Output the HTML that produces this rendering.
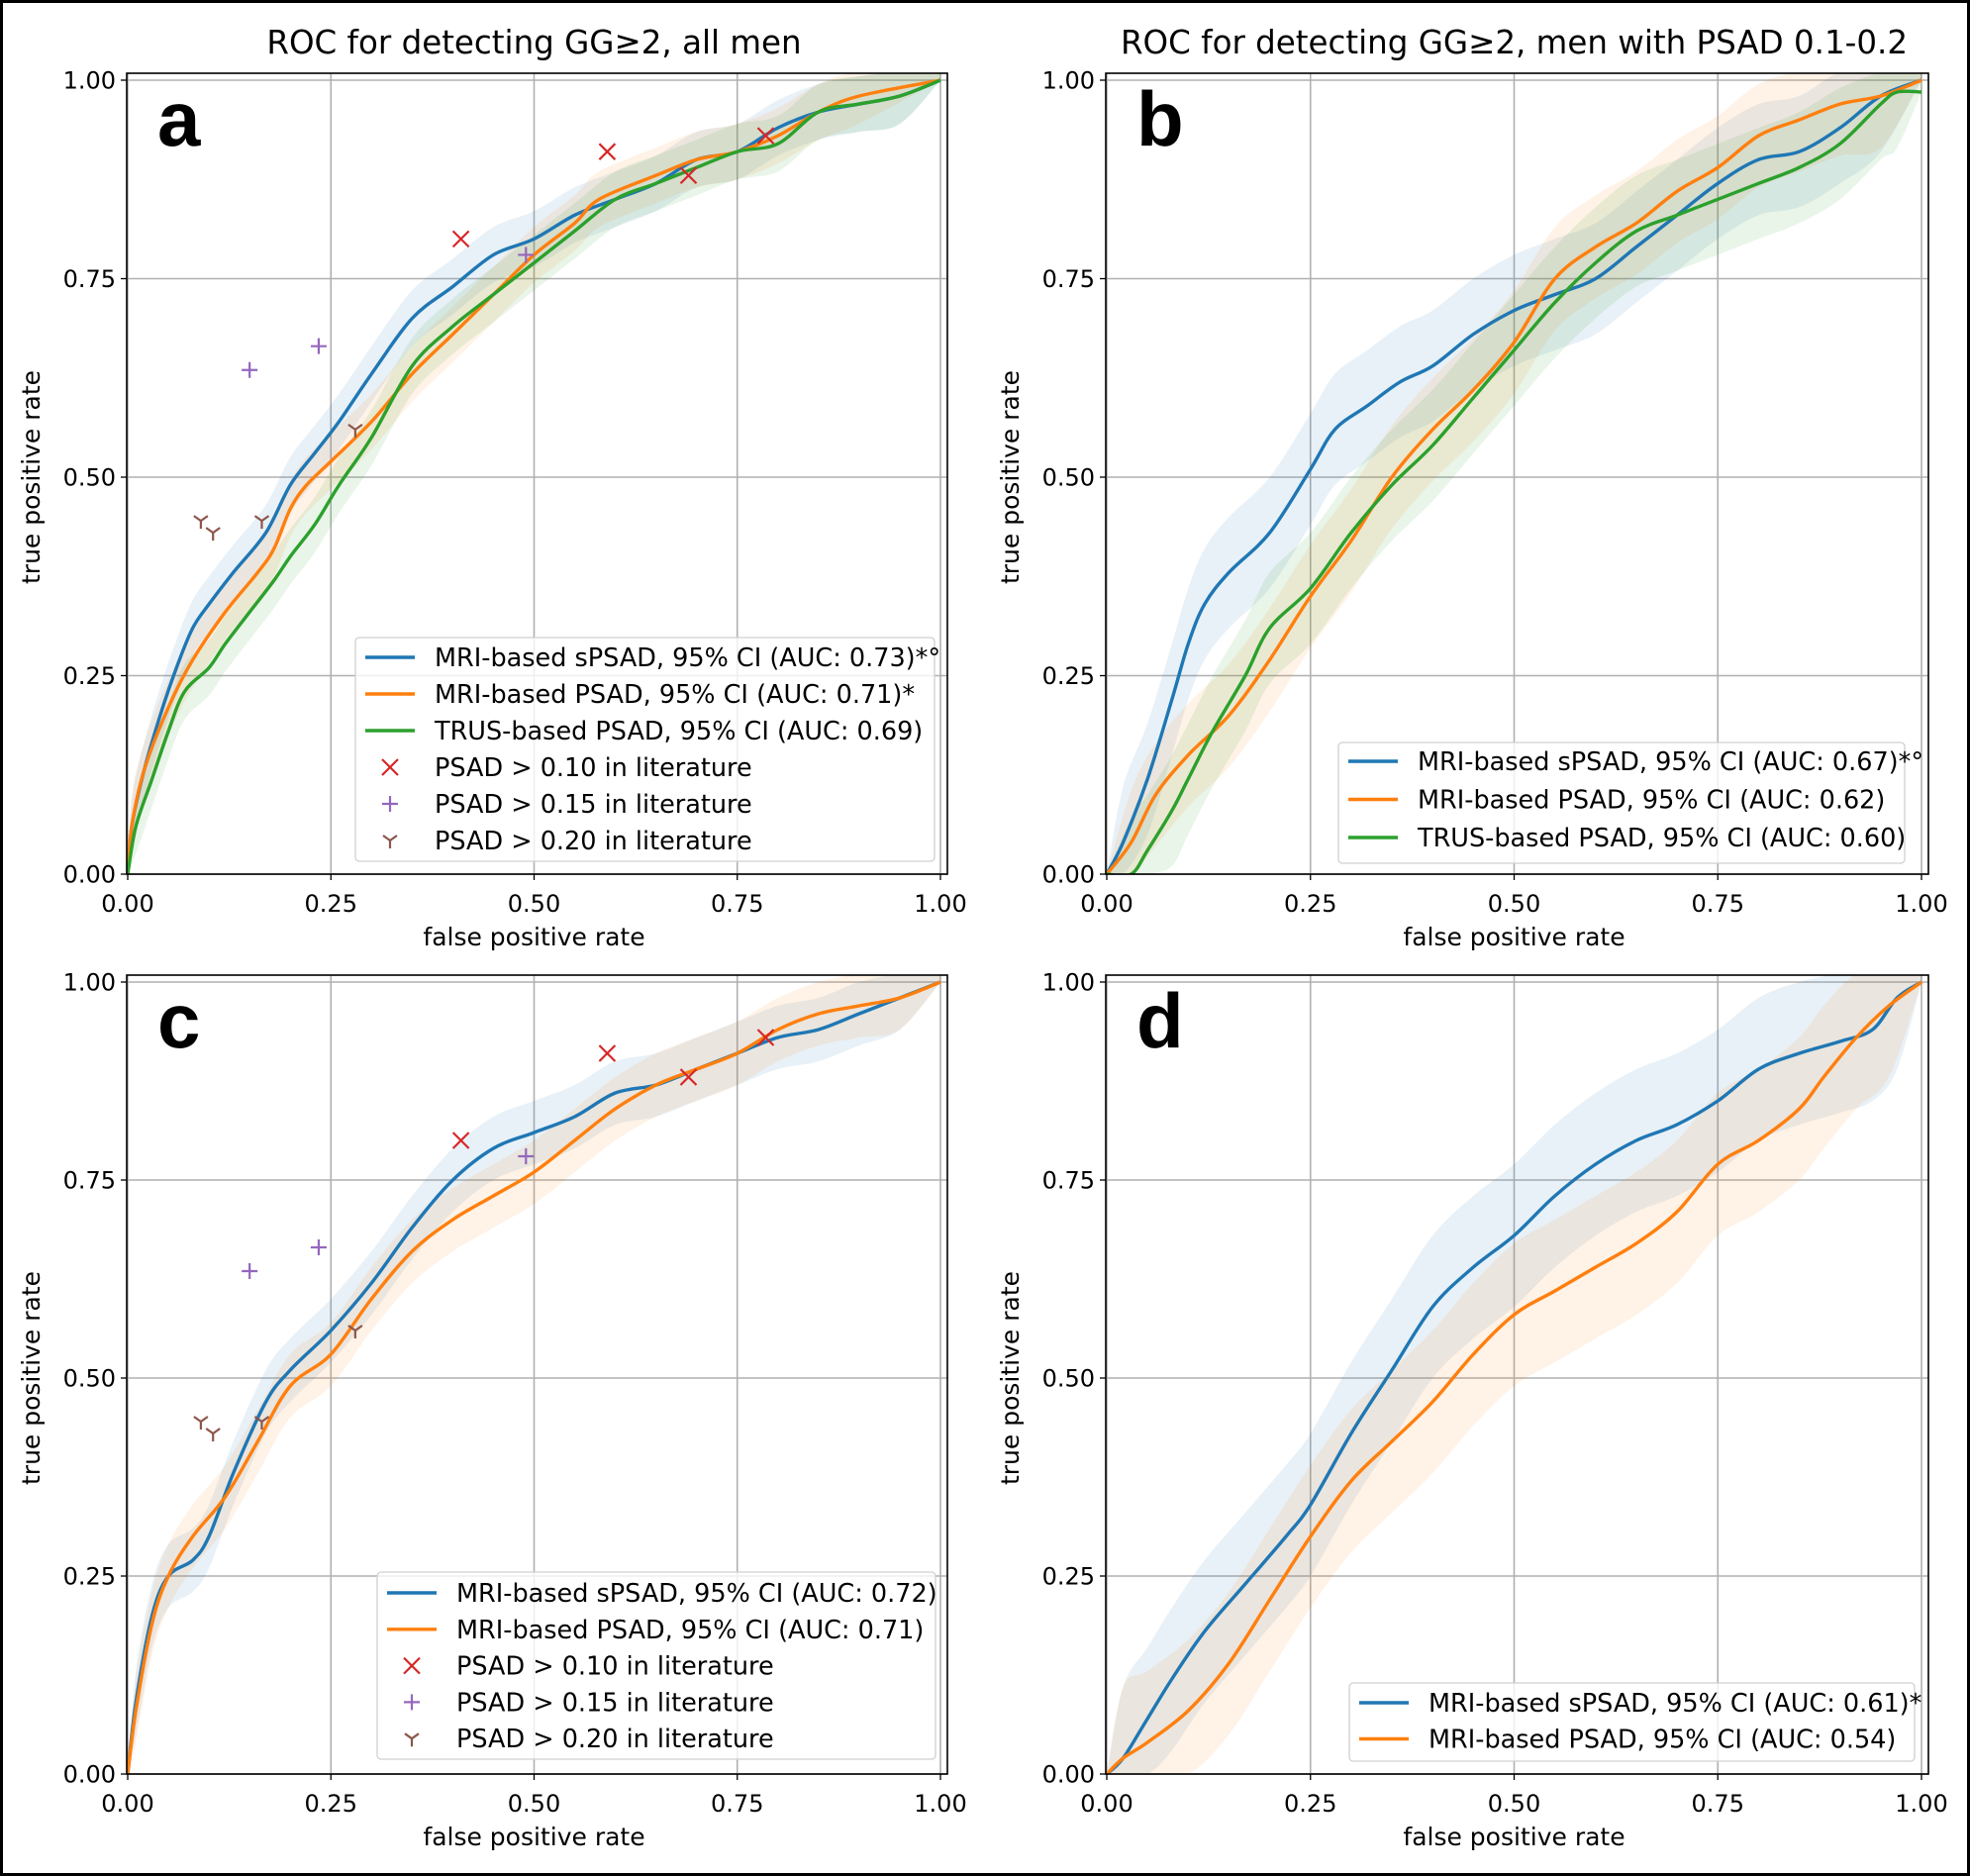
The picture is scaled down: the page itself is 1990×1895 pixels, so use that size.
<!DOCTYPE html>
<html><head><meta charset="utf-8">
<style>
html,body{margin:0;padding:0;background:#fff;}
svg{display:block;}
text{font-family:"DejaVu Sans","Liberation Sans",sans-serif;fill:#000;}
.letter{font-family:"Liberation Sans",sans-serif;font-weight:bold;}
</style></head>
<body>
<svg id="fig" xmlns="http://www.w3.org/2000/svg" width="1990" height="1895" viewBox="0 0 1990 1895">
<rect x="1.5" y="1.5" width="1987" height="1892" fill="#fff" stroke="#000" stroke-width="3"/>
</svg>
<script>
// ---- data ----
const tickValues = [0, 0.25, 0.5, 0.75, 1.0];
const tickLabels = ["0.00", "0.25", "0.50", "0.75", "1.00"];
// panel a
const aBlueX = [0,0.005,0.02,0.04,0.06,0.08,0.1,0.13,0.17,0.2,0.23,0.26,0.3,0.35,0.4,0.45,0.5,0.55,0.6,0.65,0.7,0.75,0.8,0.85,0.9,0.95,1];
const aBlueY = [0,0.06,0.13,0.2,0.26,0.31,0.34,0.38,0.43,0.49,0.53,0.57,0.63,0.7,0.74,0.78,0.8,0.83,0.85,0.87,0.9,0.91,0.94,0.96,0.97,0.98,1];
const aOrangeX = [0,0.005,0.02,0.05,0.08,0.12,0.16,0.18,0.2,0.22,0.25,0.3,0.35,0.4,0.45,0.5,0.55,0.58,0.65,0.7,0.75,0.8,0.85,0.9,1];
const aOrangeY = [0,0.06,0.13,0.21,0.27,0.33,0.38,0.41,0.46,0.49,0.52,0.57,0.63,0.68,0.73,0.78,0.82,0.85,0.88,0.9,0.91,0.93,0.96,0.98,1];
const aGreenX = [0,0.01,0.03,0.05,0.07,0.1,0.12,0.15,0.18,0.2,0.23,0.26,0.3,0.35,0.4,0.45,0.5,0.55,0.6,0.65,0.7,0.75,0.8,0.85,0.9,0.95,1];
const aGreenY = [0,0.06,0.12,0.18,0.23,0.26,0.29,0.33,0.37,0.4,0.44,0.49,0.55,0.64,0.69,0.73,0.77,0.81,0.85,0.87,0.89,0.91,0.92,0.96,0.97,0.98,1];
// panel b
const bBlueX = [0,0.02,0.05,0.08,0.1,0.12,0.15,0.2,0.25,0.28,0.32,0.36,0.4,0.45,0.5,0.55,0.6,0.65,0.7,0.75,0.8,0.85,0.9,0.95,1];
const bBlueY = [0,0.04,0.12,0.22,0.29,0.34,0.38,0.43,0.51,0.56,0.59,0.62,0.64,0.68,0.71,0.73,0.75,0.79,0.83,0.87,0.9,0.91,0.94,0.98,1];
const bOrangeX = [0,0.03,0.06,0.1,0.15,0.2,0.25,0.3,0.35,0.4,0.45,0.5,0.55,0.6,0.65,0.7,0.75,0.8,0.85,0.9,0.95,1];
const bOrangeY = [0,0.04,0.1,0.15,0.2,0.27,0.35,0.42,0.5,0.56,0.61,0.67,0.75,0.79,0.82,0.86,0.89,0.93,0.95,0.97,0.98,1];
const bGreenX = [0,0.03,0.05,0.08,0.1,0.13,0.17,0.2,0.25,0.3,0.35,0.4,0.45,0.5,0.55,0.6,0.65,0.7,0.75,0.8,0.85,0.9,0.95,0.97,1];
const bGreenY = [0,0.0,0.03,0.08,0.12,0.18,0.25,0.31,0.36,0.43,0.49,0.54,0.6,0.66,0.72,0.77,0.81,0.83,0.85,0.87,0.89,0.92,0.97,0.985,0.985];
// panel c
const cBlueX = [0,0.01,0.03,0.05,0.08,0.1,0.13,0.17,0.2,0.25,0.3,0.35,0.4,0.45,0.5,0.55,0.6,0.65,0.7,0.75,0.8,0.85,0.9,0.95,1];
const cBlueY = [0,0.09,0.2,0.25,0.27,0.3,0.38,0.47,0.51,0.56,0.62,0.69,0.75,0.79,0.81,0.83,0.86,0.87,0.89,0.91,0.93,0.94,0.96,0.98,1];
const cOrangeX = [0,0.01,0.03,0.05,0.08,0.12,0.16,0.2,0.25,0.3,0.35,0.4,0.45,0.5,0.55,0.6,0.65,0.7,0.75,0.8,0.85,0.9,0.95,1];
const cOrangeY = [0,0.08,0.19,0.25,0.3,0.35,0.42,0.49,0.53,0.6,0.66,0.7,0.73,0.76,0.8,0.84,0.87,0.89,0.91,0.94,0.96,0.97,0.98,1];
// panel d
const dBlueX = [0,0.02,0.05,0.08,0.12,0.17,0.22,0.25,0.3,0.35,0.4,0.45,0.5,0.55,0.6,0.65,0.7,0.75,0.8,0.85,0.9,0.94,0.97,1];
const dBlueY = [0,0.02,0.07,0.12,0.18,0.24,0.3,0.34,0.43,0.51,0.59,0.64,0.68,0.73,0.77,0.8,0.82,0.85,0.89,0.91,0.925,0.94,0.98,1];
const dOrangeX = [0,0.02,0.05,0.1,0.15,0.2,0.25,0.3,0.35,0.4,0.45,0.5,0.55,0.6,0.65,0.7,0.75,0.8,0.85,0.88,0.92,0.96,1];
const dOrangeY = [0,0.02,0.04,0.08,0.14,0.22,0.3,0.37,0.42,0.47,0.53,0.58,0.61,0.64,0.67,0.71,0.77,0.8,0.84,0.88,0.93,0.97,1];
// CI half-widths (TPR units)
const ciHalf = {a:[0.035,0.035,0.035], b:[0.07,0.065,0.07], c:[0.04,0.04], d:[0.09,0.09]};
// literature points
const litXx = [0.41,0.59,0.69,0.785];
const litXy = [0.80,0.91,0.88,0.93];
const litPx = [0.15,0.235,0.49];
const litPy = [0.635,0.665,0.78];
const litTx = [0.09,0.105,0.165,0.28];
const litTy = [0.445,0.43,0.445,0.56];

const C = {blue:"#1f77b4",orange:"#ff7f0e",green:"#2ca02c",red:"#d62728",purple:"#9467bd",brown:"#8c564b"};
const NS = "http://www.w3.org/2000/svg";
const svg = document.getElementById('fig');
function mk(tag, attrs, parent){const e=document.createElementNS(NS,tag);for(const k in attrs)e.setAttribute(k,attrs[k]);(parent||svg).appendChild(e);return e;}

function smooth(pts){
  let d = "M"+pts[0][0].toFixed(1)+","+pts[0][1].toFixed(1);
  for(let i=0;i<pts.length-1;i++){
    const p0=pts[Math.max(0,i-1)],p1=pts[i],p2=pts[i+1],p3=pts[Math.min(pts.length-1,i+2)];
    const c1=[p1[0]+(p2[0]-p0[0])/6,p1[1]+(p2[1]-p0[1])/6];
    const c2=[p2[0]-(p3[0]-p1[0])/6,p2[1]-(p3[1]-p1[1])/6];
    d+=" C"+c1[0].toFixed(1)+","+c1[1].toFixed(1)+" "+c2[0].toFixed(1)+","+c2[1].toFixed(1)+" "+p2[0].toFixed(1)+","+p2[1].toFixed(1);
  }
  return d;
}

function panel(cfg){
  const {x0,x1,y0,y1,id} = cfg;
  const sx = v => x0 + v*(x1-x0);
  const sy = v => y0 - v*(y0-y1);
  const g = mk('g',{});
  
  
  const clipId = 'clip-'+id;
  const cp = mk('clipPath',{id:clipId},g);
  mk('rect',{x:x0-1,y:y1-7,width:(x1-x0)+8,height:(y0-y1)+7},cp);
  tickValues.forEach((t,i)=>{
    const gx = mk('line',{x1:sx(t),x2:sx(t),y1:y1-7,y2:y0,stroke:"#b0b0b0","stroke-width":1.6},g);
    
    
    const gy = mk('line',{x1:x0-1,x2:x1+7,y1:sy(t),y2:sy(t),stroke:"#b0b0b0","stroke-width":1.6},g);
    
    
    const tx = mk('line',{x1:sx(t),x2:sx(t),y1:y0,y2:y0+6,stroke:"#000","stroke-width":1.3},g);
    
    
    const ty = mk('line',{x1:x0-1,x2:x0-7,y1:sy(t),y2:sy(t),stroke:"#000","stroke-width":1.3},g);
    
    
    const lx = mk('text',{x:sx(t),y:y0+38,"text-anchor":"middle","font-size":24},g);
    lx.textContent = tickLabels[i];
    
    
    const ly = mk('text',{x:x0-12,y:sy(t)+8.5,"text-anchor":"end","font-size":24},g);
    ly.textContent = tickLabels[i];
    
    
  });
  const plot = mk('g',{"clip-path":"url(#"+clipId+")"},g);
  cfg.series.forEach((s,k)=>{
    const h = ciHalf[id][k];
    const up = s.x.map((v,i)=>[sx(v),sy(Math.min(1.01,s.y[i]+(i===0?0:h)))]);
    const lo = s.x.map((v,i)=>[sx(v),sy(Math.max(0,s.y[i]-(i===s.x.length-1?0:h)))]).reverse();
    let d = smooth(up) + " L" + smooth(lo).slice(1) + " Z";
    const b = mk('path',{d:d,fill:s.c,"fill-opacity":0.1,stroke:"none"},plot);
    
    
  });
  cfg.series.forEach(s=>{
    const pts = s.x.map((v,i)=>[sx(v),sy(s.y[i])]);
    const p = mk('path',{d:smooth(pts),fill:"none",stroke:s.c,"stroke-width":3.4},plot);
    
    
  });
  if(cfg.markers){
    litXx.forEach((v,i)=>{
      const X=sx(v),Y=sy(litXy[i]);
      const m = mk('path',{d:`M${X-8},${Y-8}L${X+8},${Y+8}M${X-8},${Y+8}L${X+8},${Y-8}`,stroke:C.red,"stroke-width":2.2,fill:"none"},plot);
      
      
    });
    litPx.forEach((v,i)=>{
      const X=sx(v),Y=sy(litPy[i]);
      const m = mk('path',{d:`M${X-8},${Y}L${X+8},${Y}M${X},${Y-8}L${X},${Y+8}`,stroke:C.purple,"stroke-width":2.2,fill:"none"},plot);
      
      
    });
    litTx.forEach((v,i)=>{
      const X=sx(v),Y=sy(litTy[i]);
      const m = mk('path',{d:`M${X},${Y}L${X},${Y+8}M${X},${Y}L${X-7},${Y-5}M${X},${Y}L${X+7},${Y-5}`,stroke:C.brown,"stroke-width":2.2,fill:"none"},plot);
      
      
    });
  }
  const fr = mk('rect',{x:x0-1,y:y1-7,width:(x1-x0)+8,height:(y0-y1)+7,fill:"none",stroke:"#000","stroke-width":1.6},g);
  
  
  const xl = mk('text',{x:(x0+x1)/2,y:y0+72,"text-anchor":"middle","font-size":25},g);
  xl.textContent = "false positive rate";
  
  
  const cy = (y0+y1)/2;
  const yl = mk('text',{x:x0-89,y:cy,"text-anchor":"middle","font-size":25,transform:`rotate(-90 ${x0-89} ${cy})`},g);
  yl.textContent = "true positive rate";
  
  
  const lt = mk('text',{x:x0+30,y:y1+66,"font-size":78,class:"letter"},g);
  lt.textContent = id;
  
  
  if(cfg.title){
    const t = mk('text',{x:(x0+x1)/2,y:y1-27,"text-anchor":"middle","font-size":32.5},g);
    t.textContent = cfg.title;
    
    
  }
  const L = cfg.legend;
  const lg = mk('g',{},g);
  
  
  mk('rect',{x:L.x,y:L.y,width:L.w,height:L.h,rx:4,fill:"#fff","fill-opacity":0.8,stroke:"#d0d0d0","stroke-width":1.3},lg);
  L.items.forEach((it,i)=>{
    const ry = L.r0 + i*L.dy;
    const eg = mk('g',{},lg);
    
    
    const hx = L.x+10, hm = L.x+35;
    if(it.t==='line') mk('line',{x1:hx,x2:hx+50,y1:ry,y2:ry,stroke:it.c,"stroke-width":3.4},eg);
    else if(it.t==='x') mk('path',{d:`M${hm-8},${ry-8}L${hm+8},${ry+8}M${hm-8},${ry+8}L${hm+8},${ry-8}`,stroke:it.c,"stroke-width":2.2,fill:"none"},eg);
    else if(it.t==='p') mk('path',{d:`M${hm-8},${ry}L${hm+8},${ry}M${hm},${ry-8}L${hm},${ry+8}`,stroke:it.c,"stroke-width":2.2,fill:"none"},eg);
    else mk('path',{d:`M${hm},${ry}L${hm},${ry+8}M${hm},${ry}L${hm-7},${ry-5}M${hm},${ry}L${hm+7},${ry-5}`,stroke:it.c,"stroke-width":2.2,fill:"none"},eg);
    const tt = mk('text',{x:L.x+80,y:ry+9,"font-size":25.5},eg);
    tt.textContent = it.s;
  });
}

const litItems = [
  {t:'x',c:C.red,s:"PSAD > 0.10 in literature"},
  {t:'p',c:C.purple,s:"PSAD > 0.15 in literature"},
  {t:'y',c:C.brown,s:"PSAD > 0.20 in literature"}];

panel({id:'a',x0:129,x1:950,y0:883,y1:81,title:"ROC for detecting GG\u22652, all men",markers:true,
  series:[{x:aBlueX,y:aBlueY,c:C.blue,n:'mri-spsad'},{x:aOrangeX,y:aOrangeY,c:C.orange,n:'mri-psad'},{x:aGreenX,y:aGreenY,c:C.green,n:'trus-psad'}],
  legend:{x:359,y:644,w:585,h:226,r0:664,dy:37,items:[
    {t:'line',c:C.blue,s:"MRI-based sPSAD, 95% CI (AUC: 0.73)*\u00b0"},
    {t:'line',c:C.orange,s:"MRI-based PSAD, 95% CI (AUC: 0.71)*"},
    {t:'line',c:C.green,s:"TRUS-based PSAD, 95% CI (AUC: 0.69)"}].concat(litItems)}});
panel({id:'b',x0:1118,x1:1941,y0:883,y1:81,title:"ROC for detecting GG\u22652, men with PSAD 0.1-0.2",
  series:[{x:bBlueX,y:bBlueY,c:C.blue,n:'mri-spsad'},{x:bOrangeX,y:bOrangeY,c:C.orange,n:'mri-psad'},{x:bGreenX,y:bGreenY,c:C.green,n:'trus-psad'}],
  legend:{x:1352,y:750,w:572,h:122,r0:769,dy:38.5,items:[
    {t:'line',c:C.blue,s:"MRI-based sPSAD, 95% CI (AUC: 0.67)*\u00b0"},
    {t:'line',c:C.orange,s:"MRI-based PSAD, 95% CI (AUC: 0.62)"},
    {t:'line',c:C.green,s:"TRUS-based PSAD, 95% CI (AUC: 0.60)"}]}});
panel({id:'c',x0:129,x1:950,y0:1792,y1:992,markers:true,
  series:[{x:cBlueX,y:cBlueY,c:C.blue,n:'mri-spsad'},{x:cOrangeX,y:cOrangeY,c:C.orange,n:'mri-psad'}],
  legend:{x:381,y:1588,w:564,h:189,r0:1609,dy:36.8,items:[
    {t:'line',c:C.blue,s:"MRI-based sPSAD, 95% CI (AUC: 0.72)"},
    {t:'line',c:C.orange,s:"MRI-based PSAD, 95% CI (AUC: 0.71)"}].concat(litItems)}});
panel({id:'d',x0:1118,x1:1941,y0:1792,y1:992,
  series:[{x:dBlueX,y:dBlueY,c:C.blue,n:'mri-spsad'},{x:dOrangeX,y:dOrangeY,c:C.orange,n:'mri-psad'}],
  legend:{x:1363,y:1700,w:571,h:79,r0:1720,dy:36.5,items:[
    {t:'line',c:C.blue,s:"MRI-based sPSAD, 95% CI (AUC: 0.61)*"},
    {t:'line',c:C.orange,s:"MRI-based PSAD, 95% CI (AUC: 0.54)"}]}});
</script>
</body></html>
